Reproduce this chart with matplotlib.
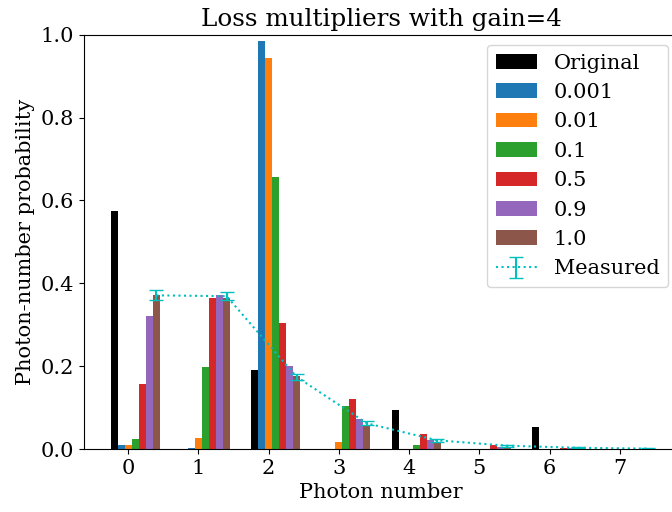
import numpy as np
import matplotlib
matplotlib.use("Agg")
import matplotlib.pyplot as plt

plt.rcParams['font.family'] = 'DejaVu Serif'
plt.rcParams['font.size'] = 15

# photon number distributions
n = np.arange(8)
labels = ["Original", "0.001", "0.01", "0.1", "0.5", "0.9", "1.0"]
original = [0.575, 0.0, 0.191, 0.0, 0.094, 0.0, 0.053, 0.0]
loss_0001 = [0.010, 0.003, 0.985, 0.0, 0.0, 0.0, 0.0, 0.0]
loss_001 = [0.010, 0.027, 0.944, 0.017, 0.0, 0.0, 0.0, 0.0]
loss_01 = [0.024, 0.199, 0.656, 0.104, 0.010, 0.0, 0.0, 0.0]
loss_05 = [0.157, 0.365, 0.305, 0.121, 0.036, 0.010, 0.003, 0.0]
loss_09 = [0.322, 0.373, 0.201, 0.073, 0.022, 0.005, 0.002, 0.0]
loss_10 = [0.373, 0.365, 0.177, 0.056, 0.016, 0.005, 0.002, 0.0]
measured = [0.371, 0.369, 0.174, 0.062, 0.021, 0.008, 0.003, 0.001]
measured_err = [0.012, 0.010, 0.007, 0.005, 0.003, 0.002, 0.001, 0.001]

series = [original, loss_0001, loss_001, loss_01, loss_05, loss_09, loss_10]
colors = ["black", "C0", "C1", "C2", "C3", "C4", "C5"]

fig = plt.figure(figsize=(6.72, 5.12), dpi=100)
ax = fig.add_axes([0.1245, 0.123, 0.885, 0.809])

w = 0.1
for i in range(len(series)):
    ax.bar(n + (i - 2) * w, series[i], width=w, color=colors[i], label=labels[i])

ax.errorbar(n + 4 * w, measured, yerr=measured_err, fmt=':', color='c',
            capsize=5, elinewidth=1.5, label="Measured")

ax.set_ylim(0, 1.0)
ax.set_xticks(n)
ax.set_xlabel("Photon number")
ax.set_ylabel("Photon-number probability")
ax.set_title("Loss multipliers with gain=4", fontsize=17.7)
ax.legend(loc="upper right")

plt.savefig("out.png", dpi=100)
